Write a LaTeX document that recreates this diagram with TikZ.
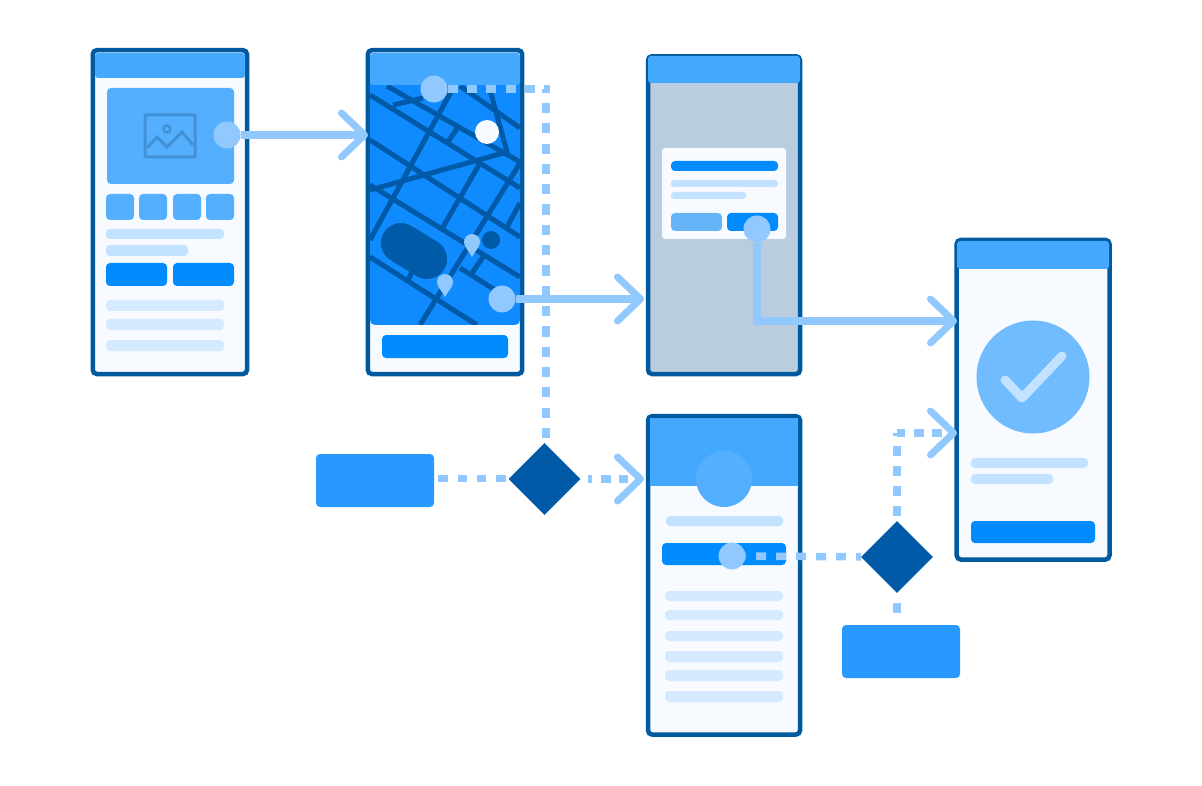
\documentclass[tikz,border=0pt]{standalone}
\usepackage{tikz}
\usetikzlibrary{shapes.geometric,arrows.meta}
\definecolor{edgeblue}{HTML}{005A9F}
\definecolor{darkblue}{HTML}{005AA7}
\definecolor{headblue}{HTML}{45A8FF}
\definecolor{softblue}{HTML}{55AFFF}
\definecolor{mainblue}{HTML}{008CFF}
\definecolor{mapblue}{HTML}{0F8BFF}
\definecolor{boxblue}{HTML}{2899FF}
\definecolor{linkblue}{HTML}{91C9FF}
\definecolor{barblue}{HTML}{C2E2FF}
\definecolor{paleblue}{HTML}{D6EAFF}
\definecolor{screen}{HTML}{F7FAFF}
\definecolor{shade}{HTML}{BACDDE}
\definecolor{iconblue}{HTML}{4191D6}
\definecolor{checkblue}{HTML}{70BCFF}
\definecolor{hatchblue}{HTML}{66B4F8}
\begin{document}
\begin{tikzpicture}[x=1pt,y=-1pt,
		frame/.style={draw=edgeblue,line width=4.5pt,fill=screen,rounded corners=4pt},
		header/.style={fill=headblue,rounded corners=3pt},
		thumb/.style={fill=softblue,rounded corners=4pt},
		button/.style={fill=mainblue,rounded corners=4pt},
		bar/.style={fill=barblue,rounded corners=4pt},
		rowbar/.style={fill=paleblue,rounded corners=4pt},
		street/.style={draw=darkblue,line width=5pt},
		dot/.style={circle,fill=linkblue,minimum size=27pt,inner sep=0pt},
		choice/.style={diamond,fill=darkblue,aspect=1,minimum width=72pt,minimum height=72pt,inner sep=0pt},
		action/.style={fill=boxblue,rounded corners=4pt,minimum width=118pt,minimum height=53pt,inner sep=0pt},
		tip/.style={-{Straight Barb[length=23pt,width=44pt,round,line width=7pt]}},
		link/.style={draw=linkblue,line width=7.5pt,tip},
		maybe/.style={draw=linkblue,line width=7.5pt,dash pattern=on 10pt off 10pt}]
	\useasboundingbox (0,0) rectangle (1202,786);
	% product screen
	\draw[frame] (92.8,50.2) rectangle (247,374);
	\fill[header] (95,53) rectangle (245,78);
	\fill[thumb] (107,88) rectangle (234,184);
	\draw[iconblue,line width=3pt,rounded corners=1pt] (145,115) rectangle (195,157);
	\draw[iconblue,line width=3pt] (147,148) -- (157,137) -- (167,147) -- (182,132) -- (193,145);
	\draw[iconblue,line width=2.5pt] (167,129) circle (3.5);
	\fill[thumb] (106,194) rectangle (134,220);
	\fill[thumb] (139,194) rectangle (167,220);
	\fill[thumb] (173,194) rectangle (201,220);
	\fill[thumb] (206,194) rectangle (234,220);
	\fill[bar] (106,229) rectangle (224,239);
	\fill[bar] (106,245) rectangle (188,256);
	\fill[button] (106,263) rectangle (167,286);
	\fill[button] (173,263) rectangle (234,286);
	\fill[rowbar] (106,300) rectangle (224,311);
	\fill[rowbar] (106,319) rectangle (224,330);
	\fill[rowbar] (106,340) rectangle (224,351);
	% map screen
	\draw[frame] (367.8,50.2) rectangle (522.2,374);
	\begin{scope}
		\clip[rounded corners=5pt] (370,70) rectangle (520,325);
		\fill[mapblue] (370,70) rectangle (520,325);
		\draw[street] (387,86) -- (520,162);
		\draw[street] (370,95) -- (520,188);
		\draw[street] (370,140) -- (520,237);
		\draw[street] (370,185) -- (520,277);
		\draw[street] (370,257) -- (477,325);
		\draw[street] (460,268) -- (500,293);
		\draw[street] (460,86) -- (520,128);
		\draw[street] (452,90) -- (370,240);
		\draw[street] (480,163) -- (443,227);
		\draw[street] (520,163) -- (420,325);
		\draw[street] (520,203) -- (507,227);
		\draw[street] (458,127) -- (448,142);
		\draw[street] (483,257) -- (472,273);
		\draw[street] (412,272) -- (407,282);
		\draw[street] (490,90) -- (507,152) -- (370,190);
		\draw[street] (393,105) -- (423,98);
		\draw[darkblue,line width=40pt,line cap=round] (401,243) -- (427,259);
		\fill[darkblue] (491,240) circle (9);
	\end{scope}
	\fill[header] (370,53) rectangle (520,85);
	\fill[linkblue] (472,257) .. controls (469,251) and (464,247) .. (464,242) arc (180:360:8) .. controls (480,247) and (475,251) .. (472,257) -- cycle;
	\fill[linkblue] (445,297) .. controls (442,291) and (437,287) .. (437,282) arc (180:360:8) .. controls (453,287) and (448,291) .. (445,297) -- cycle;
	\fill[screen] (487,132) circle (12);
	\fill[button] (382,335) rectangle (508,358);
	% dialog screen
	\draw[frame,fill=shade] (648,56.3) rectangle (800,374);
	\fill[header] (648,56) rectangle (800,83);
	\fill[screen,rounded corners=3pt] (662,148) rectangle (786,239);
	\fill[button] (671,161) rectangle (778,171);
	\fill[bar,rounded corners=3pt] (671,180) rectangle (778,187);
	\fill[bar,rounded corners=3pt] (671,192) rectangle (746,199);
	\fill[hatchblue,rounded corners=4pt] (671,213) rectangle (722,231);
	\fill[button] (727,213) rectangle (778,231);
	% profile screen
	\draw[frame] (648,416.2) rectangle (800,734.5);
	\fill[headblue] (650.2,418.4) rectangle (797.8,486);
	\fill[softblue] (724,479) circle (28);
	\fill[bar] (666,516) rectangle (783,526);
	\fill[button] (662,543) rectangle (786,565);
	\fill[rowbar] (665,591) rectangle (783,601);
	\fill[rowbar] (665,610) rectangle (783,620);
	\fill[rowbar] (665,631) rectangle (783,641);
	\fill[rowbar] (665,651) rectangle (783,662);
	\fill[rowbar] (665,670) rectangle (783,681);
	\fill[rowbar] (665,691) rectangle (783,702);
	% done screen
	\draw[frame] (956.7,240) rectangle (1109.5,559.5);
	\fill[header] (957,241) rectangle (1109,269);
	\fill[checkblue] (1033,377) circle (56.5);
	\draw[barblue,line width=9pt,line cap=round,line join=round] (1005,380) -- (1022,398) -- (1062,356);
	\fill[bar] (971,458) rectangle (1088,468);
	\fill[bar] (971,474) rectangle (1053,484);
	\fill[button] (971,521) rectangle (1095,543);
	% flow
	\node[action] (action_a) at (375,480.5) {};
	\node[action] (action_b) at (901,651.5) {};
	\node[choice] (choice_a) at (544.5,479) {};
	\node[choice] (choice_b) at (897,557) {};
	\node[dot] (dot_image) at (227,135) {};
	\node[dot] (dot_top) at (434,89) {};
	\node[dot] (dot_route) at (502,299) {};
	\node[dot] (dot_ok) at (757,229) {};
	\node[dot] (dot_profile) at (732,556) {};
	\coordinate (in_map) at (368,135);
	\coordinate (in_dialog) at (644,299);
	\coordinate (in_done) at (957,321);
	\coordinate (in_done_b) at (957,433);
	\coordinate (in_profile) at (644,479);
	\coordinate (corner_a) at (546,89);
	\coordinate (above_a) at (546,441);
	\coordinate (corner_ok) at (757,321);
	\coordinate (corner_b) at (897,433);
	\coordinate (above_b) at (897,616);
	\draw[maybe,dash pattern=on 10pt off 9.3pt] (dot_top) -- ([xshift=4pt]corner_a);
	\draw[maybe,dash pattern=on 10.2pt off 10.1pt,dash phase=6.3pt] (corner_a) -- (above_a);
	\draw[maybe,dash pattern=on 9.6pt off 9.7pt,dash phase=15.3pt] ([yshift=2pt]action_a.east) -- ([yshift=0.5pt]choice_a.west);
	\draw[maybe,tip,dash pattern=on 0pt off 7.5pt on 4pt off 9pt on 10pt off 8pt on 9pt off 40pt] (choice_a) -- (in_profile);
	\draw[maybe,dash phase=9.5pt] (dot_profile) -- (choice_b);
	\draw[maybe,dash phase=15pt] (choice_b) -- (corner_b);
	\draw[maybe,tip,dash pattern=on 8pt off 9pt on 10pt off 8pt on 10pt off 40pt] (corner_b) -- (in_done_b);
	\draw[maybe,dash phase=10pt] (choice_b) -- (above_b);
	\draw[link] (dot_image) -- (in_map);
	\draw[link] (dot_route) -- (in_dialog);
	\draw[link] (dot_ok) -- (corner_ok) -- (in_done);
\end{tikzpicture}
\end{document}
